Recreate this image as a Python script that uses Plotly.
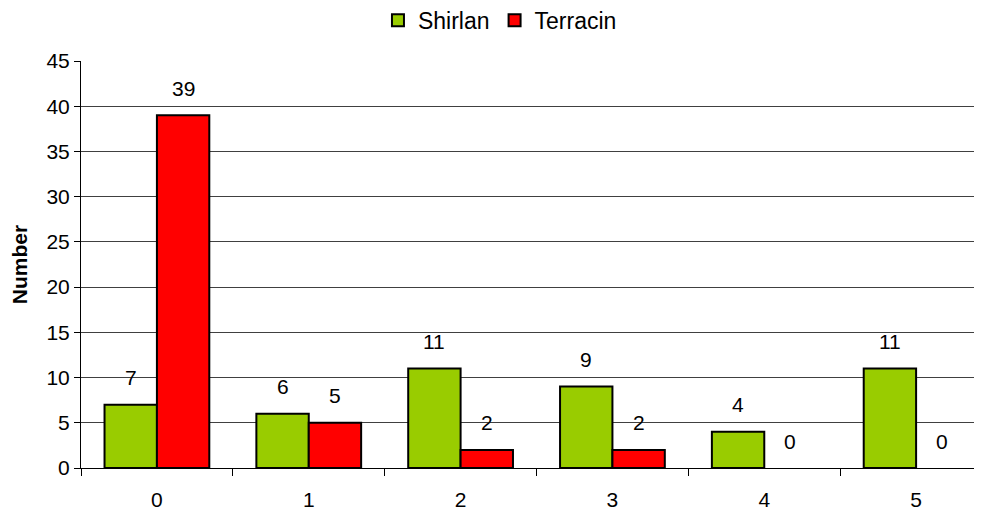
import plotly.graph_objects as go

categories = ["0", "1", "2", "3", "4", "5"]
shirlan = [7, 6, 11, 9, 4, 11]
terracin = [39, 5, 2, 2, 0, 0]
series_names = ["Shirlan", "Terracin"]
series_colors = ["#99CC00", "#FF0000"]
y_ticks = [0, 5, 10, 15, 20, 25, 30, 35, 40, 45]

FONT = "Liberation Sans, Arial, sans-serif"
bargap = 0.31

fig = go.Figure()
for name, vals, col in zip(series_names, [shirlan, terracin], series_colors):
    fig.add_trace(go.Bar(
        name=name, x=categories, y=vals,
        marker=dict(color=col,
                    line=dict(color="black", width=[2 if v else 0 for v in vals])),
    ))

# data labels above each bar
n = len(series_names)
w = (1 - bargap) / n
annotations = []
for i, vals in enumerate([shirlan, terracin]):
    for k, v in enumerate(vals):
        annotations.append(dict(
            x=k + (i - (n - 1) / 2) * w, y=v, xref="x", yref="y",
            text=str(v), showarrow=False, yanchor="middle", yshift=27,
            font=dict(family=FONT, size=21, color="black"),
        ))

# page body adds an 8px offset, so the figure is sized to fit the window
fig.update_layout(
    width=974, height=507,
    barmode="group", bargap=bargap, bargroupgap=0,
    paper_bgcolor="white", plot_bgcolor="white",
    margin=dict(l=73, r=0, t=53, b=47, autoexpand=False),
    font=dict(family=FONT, size=21, color="black"),
    showlegend=True,
    legend=dict(orientation="h", x=0.465, xanchor="center", y=1.10, yref="paper",
                yanchor="middle", font=dict(family=FONT, size=23, color="black"),
                itemwidth=30, traceorder="normal", tracegroupgap=0,
                itemsizing="constant", bgcolor="rgba(0,0,0,0)"),
    annotations=annotations,
)
fig.update_xaxes(
    type="category", range=[-0.5, 5.434], automargin=False,
    showline=True, linecolor="black", linewidth=1,
    ticks="outside", tickson="boundaries", ticklen=7, tickcolor="black",
    tickfont=dict(family=FONT, size=21, color="black"),
    ticklabelstandoff=13,
    showgrid=False,
)
fig.update_yaxes(
    range=[0, 45], tickvals=y_ticks, automargin=False,
    showline=True, linecolor="black", linewidth=1,
    ticks="outside", ticklen=6, tickcolor="black",
    tickfont=dict(family=FONT, size=21, color="black"),
    showgrid=True, gridcolor="#404040", gridwidth=1,
    zeroline=False,
    title=dict(text="<b>Number</b>", font=dict(family=FONT, size=21, color="black"), standoff=14),
)

fig.write_html("out.html")
